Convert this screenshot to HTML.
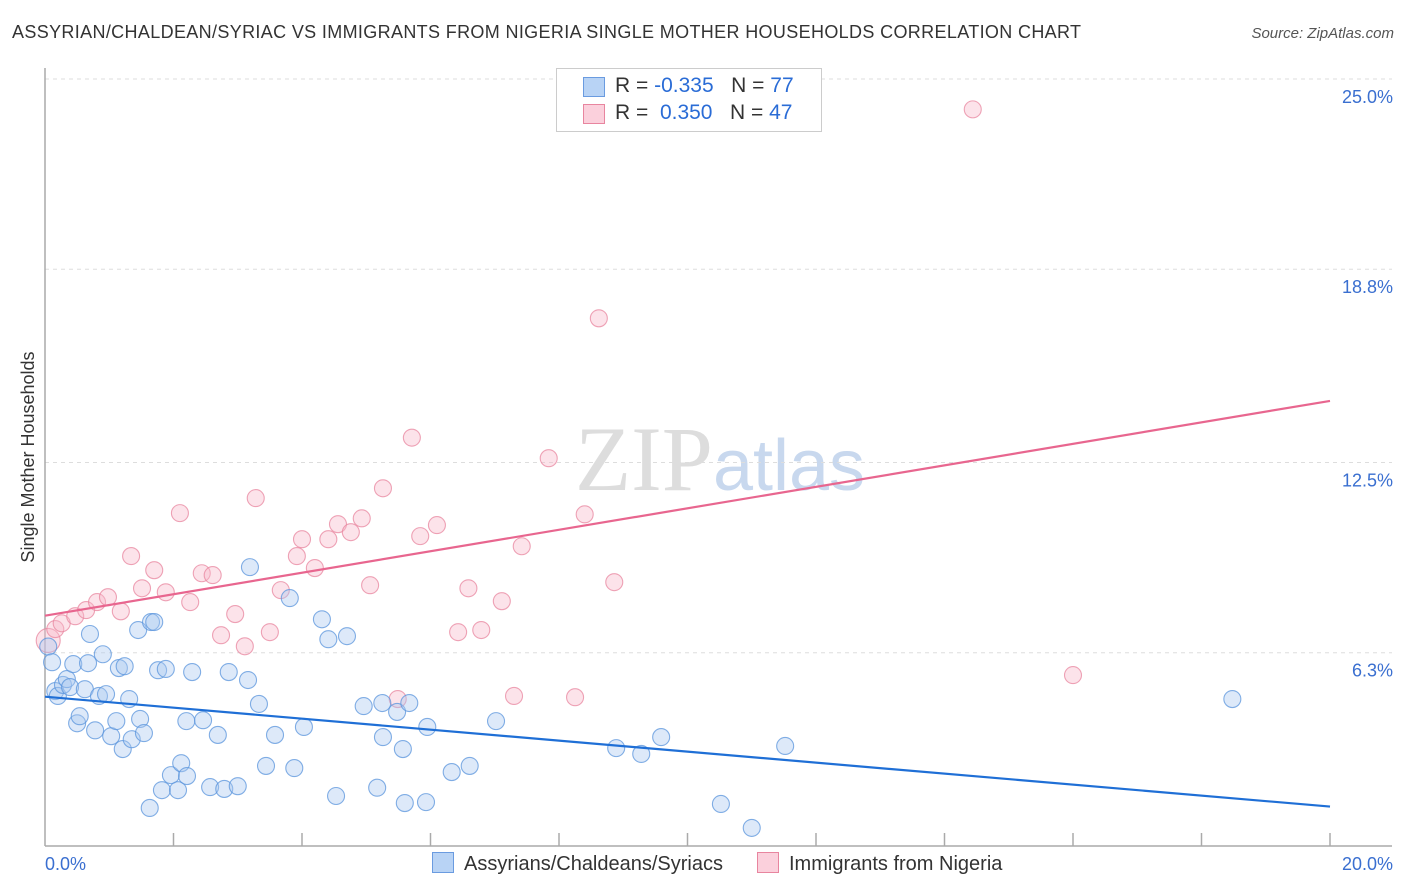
<!DOCTYPE html>
<html><head><meta charset="utf-8"><style>
body{margin:0;background:#fff;font-family:"Liberation Sans",sans-serif;}
#wrap{position:relative;width:1406px;height:892px;overflow:hidden;}
.t{position:absolute;white-space:nowrap;}
</style></head><body>
<div id="wrap">
<div class="t" style="left:12px;top:22px;font-size:18px;color:#333;letter-spacing:0.35px;">ASSYRIAN/CHALDEAN/SYRIAC VS IMMIGRANTS FROM NIGERIA SINGLE MOTHER HOUSEHOLDS CORRELATION CHART</div>
<div class="t" style="right:12px;top:25px;font-size:15px;color:#555;font-style:italic;">Source: ZipAtlas.com</div>
<svg id="chart" width="1406" height="892" style="position:absolute;left:0;top:0"></svg>
</div>
<script>
const yTicks=[25.0,18.8,12.5,6.3];
const yTickLabels=["25.0%","18.8%","12.5%","6.3%"];
const xLabels=["0.0%","20.0%"];
const blueX=[0.05,0.11,0.16,0.2,0.28,0.34,0.39,0.44,0.5,0.54,0.62,0.67,0.7,0.78,0.84,0.9,0.95,1.03,1.11,1.15,1.21,1.24,1.31,1.35,1.45,1.48,1.54,1.63,1.65,1.7,1.76,1.82,1.88,1.96,2.07,2.12,2.2,2.21,2.29,2.46,2.57,2.69,2.79,2.86,3.0,3.16,3.19,3.33,3.44,3.58,3.81,3.88,4.03,4.31,4.41,4.53,4.7,4.96,5.17,5.25,5.26,5.48,5.57,5.6,5.67,5.93,5.95,6.33,6.61,7.02,8.89,9.28,9.59,10.52,11.0,11.52,18.48];
const blueY=[6.5,5.99,5.05,4.89,5.25,5.44,5.18,5.93,4.0,4.23,5.11,5.96,6.91,3.77,4.89,6.25,4.95,3.58,4.07,5.8,3.16,5.86,4.79,3.48,7.04,4.14,3.68,1.24,7.3,7.3,5.73,1.82,5.77,2.31,1.82,2.7,4.07,2.28,5.67,4.1,1.92,3.62,1.86,5.67,1.95,5.41,9.09,4.63,2.61,3.62,8.08,2.54,3.88,7.39,6.74,1.63,6.84,4.56,1.9,4.66,3.55,4.37,3.16,1.4,4.66,1.43,3.88,2.41,2.61,4.07,3.19,3.0,3.55,1.37,0.59,3.26,4.79];
const pinkX=[0.05,0.16,0.26,0.47,0.64,0.81,0.98,1.18,1.34,1.51,1.7,1.88,2.1,2.26,2.44,2.61,2.74,2.96,3.11,3.28,3.5,3.67,3.92,4.0,4.2,4.41,4.56,4.76,4.93,5.06,5.26,5.49,5.71,5.84,6.1,6.43,6.59,6.79,7.11,7.3,7.42,7.84,8.25,8.4,8.62,8.86,14.44,16.0];
const pinkY=[6.7,7.07,7.26,7.49,7.69,7.95,8.11,7.65,9.45,8.4,8.99,8.27,10.85,7.95,8.89,8.83,6.87,7.56,6.51,11.34,6.97,8.34,9.45,10.0,9.06,10.0,10.49,10.23,10.68,8.5,11.66,4.79,13.31,10.1,10.46,6.97,8.4,7.04,7.98,4.89,9.77,12.64,4.85,10.81,17.2,8.6,24.01,5.57];
const X0=45,X1=1330,Y0=846;
const xs=v=>X0+(v/20)*(X1-X0);
const ys=v=>Y0-v*(Y0-79)/25;
const svg=document.getElementById('chart');
const NS='http://www.w3.org/2000/svg';
function mk(tag,attrs){const e=document.createElementNS(NS,tag);for(const k in attrs)e.setAttribute(k,attrs[k]);svg.appendChild(e);return e;}
let wm=mk('text',{x:720,y:490,'text-anchor':'middle','font-size':92,'font-family':'Liberation Serif, serif',fill:'#ddd'});


wm.innerHTML='ZIP<tspan font-family="Liberation Sans, sans-serif" fill="#c8d8ee" font-size="72">atlas</tspan>';
yTicks.forEach((v,i)=>{
 let g=mk('line',{x1:X0,x2:1392,y1:ys(v),y2:ys(v),stroke:'#ddd','stroke-dasharray':'4,4'});
 
 
 let t=mk('text',{x:1393,y:ys(v)+24,'text-anchor':'end','font-size':18,fill:'#3a6fd0'});
 
 
 t.textContent=yTickLabels[i];
});
let ax=mk('line',{x1:X0,x2:1392,y1:Y0,y2:Y0,stroke:'#aaa','stroke-width':1.5});


let ay=mk('line',{x1:X0,x2:X0,y1:68,y2:Y0,stroke:'#aaa','stroke-width':1.5});


for(let i=1;i<=10;i++){let tk=mk('line',{x1:xs(i*2),x2:xs(i*2),y1:Y0-13,y2:Y0,stroke:'#aaa','stroke-width':1.5});
 
 }
let xl0=mk('text',{x:45,y:870,'font-size':18,fill:'#3a6fd0'});xl0.textContent=xLabels[0];


let xl1=mk('text',{x:1393,y:870,'text-anchor':'end','font-size':18,fill:'#3a6fd0'});xl1.textContent=xLabels[1];


let yt=mk('text',{x:34,y:457,'text-anchor':'middle','font-size':18,fill:'#333',transform:'rotate(-90 34 457)'});
yt.textContent='Single Mother Households';


function pts(X,Y,fill,stroke,name){X.forEach((x,i)=>{let r=(name==='nigeria-point'&&i===0)?12:8.5;let c=mk('circle',{cx:xs(x),cy:ys(Y[i]),r:r,fill:fill,'fill-opacity':0.4,stroke:stroke,'stroke-opacity':0.75,'stroke-width':1.1});
 
 });}
pts(pinkX,pinkY,'#f7b8cb','#e8859f','nigeria-point');
pts(blueX,blueY,'#a9c8f0','#5a94dc','assyrian-point');
function trend(X,Y,col,name){const n=X.length;const mx=X.reduce((a,b)=>a+b)/n,my=Y.reduce((a,b)=>a+b)/n;let sxy=0,sxx=0;X.forEach((x,i)=>{sxy+=(x-mx)*(Y[i]-my);sxx+=(x-mx)**2});const b=sxy/sxx,a=my-b*mx;
 let l=mk('line',{x1:xs(0),y1:ys(a),x2:xs(20),y2:ys(a+b*20),stroke:col,'stroke-width':2.2});
 
 }
trend(blueX,blueY,'#1f6fd6','assyrian-trend-line');
trend(pinkX,pinkY,'#e8668f','nigeria-trend-line');
</script>
<div class="t" style="left:556px;top:68px;width:264px;height:62px;border:1px solid #ccc;background:#fff;font-size:21px;color:#333;">
 <div style="position:absolute;left:26px;top:8px;width:20px;height:18px;background:#b8d3f5;border:1px solid #6a9be0;"></div>
 <div style="position:absolute;left:58px;top:5px;">R = <span style="color:#2a6cd6">-0.335</span>&nbsp;&nbsp;&nbsp;N = <span style="color:#2a6cd6">77</span></div>
 <div style="position:absolute;left:26px;top:35px;width:20px;height:18px;background:#fbd0dc;border:1px solid #e8859f;"></div>
 <div style="position:absolute;left:58px;top:32px;">R = &nbsp;<span style="color:#2a6cd6">0.350</span>&nbsp;&nbsp;&nbsp;N = <span style="color:#2a6cd6">47</span></div>
</div>
<div class="t" style="left:432px;top:852px;font-size:20px;color:#333;">
 <span style="display:inline-block;width:20px;height:19px;background:#b8d3f5;border:1px solid #6a9be0;vertical-align:-3px;margin-right:10px;"></span>Assyrians/Chaldeans/Syriacs</div>
<div class="t" style="left:757px;top:852px;font-size:20px;color:#333;">
 <span style="display:inline-block;width:20px;height:19px;background:#fbd0dc;border:1px solid #e8859f;vertical-align:-3px;margin-right:10px;"></span>Immigrants from Nigeria</div>
</body></html>
